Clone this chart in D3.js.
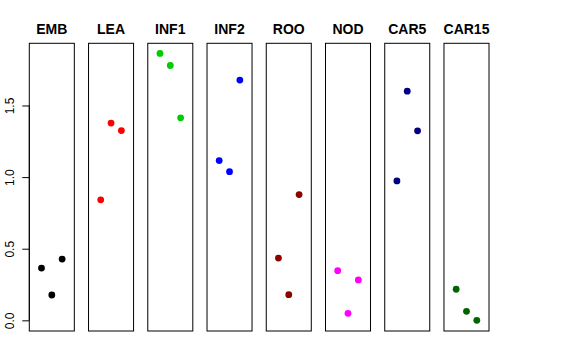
<!DOCTYPE html>
<html><head><meta charset="utf-8">
<script src="https://cdn.jsdelivr.net/npm/d3@7"></script>
<style>body{margin:0;background:#fff}svg{display:block}</style>
</head><body>
<svg id="c" width="576" height="360"></svg>
<script>
const categories = ["EMB","LEA","INF1","INF2","ROO","NOD","CAR5","CAR15"];
const colors = ["#000000","#FF0000","#00CD00","#0000FF","#8B0000","#FF00FF","#000080","#006400"];
const replicates = [1,2,3];
const values = [
  [0.365,0.177,0.428],
  [0.841,1.377,1.325],
  [1.863,1.779,1.414],
  [1.115,1.038,1.677],
  [0.435,0.179,0.878],
  [0.347,0.049,0.282],
  [0.973,1.600,1.323],
  [0.217,0.063,0.000]
];
const yTicks = [0,0.5,1,1.5];
const yTickLabels = ["0.0","0.5","1.0","1.5"];

const svg = d3.select("#c");
const font = "'Liberation Sans', Arial, Helvetica, sans-serif";
const panel = d3.scaleBand().domain(categories).range([29.3,489]).paddingInner(0.24).paddingOuter(0);
const y = d3.scaleLinear().domain([-0.0744,1.934]).range([331,43.3]);
const bw = panel.bandwidth();
const x = d3.scaleLinear().domain([-0.18,4.18]).range([0,bw]);

categories.forEach((cat,i)=>{
  const g = svg.append("g").attr("transform",`translate(${panel(cat)},0)`);
  g.append("rect").attr("x",0).attr("y",y.range()[1]).attr("width",bw)
    .attr("height",y.range()[0]-y.range()[1]).attr("fill","none").attr("stroke","#000").attr("stroke-width",1);
  g.selectAll("circle").data(values[i]).join("circle")
    .attr("cx",(d,j)=>x(replicates[j])).attr("cy",d=>y(d)).attr("r",3.4).attr("fill",colors[i]);
  g.append("text").attr("x",bw/2).attr("y",34).attr("text-anchor","middle")
    .attr("font-family",font).attr("font-weight","bold").attr("font-size",14).text(cat);
});

const axis = d3.axisLeft(y).tickValues(yTicks).tickFormat((d,i)=>yTickLabels[i]).tickSize(7).tickPadding(0);
const ag = svg.append("g").attr("transform",`translate(${panel(categories[0])},0)`).call(axis);
ag.select(".domain").attr("d",`M0,${y(0)}V${y(1.5)}`).attr("stroke","#000");
ag.selectAll(".tick line").attr("stroke","#000");
ag.selectAll(".tick text").attr("font-family",font).attr("font-size",12).attr("fill","#000")
  .attr("text-anchor","middle").attr("x",null).attr("dy",null)
  .attr("transform","translate(-15.5,0) rotate(-90)");
</script>
</body></html>
